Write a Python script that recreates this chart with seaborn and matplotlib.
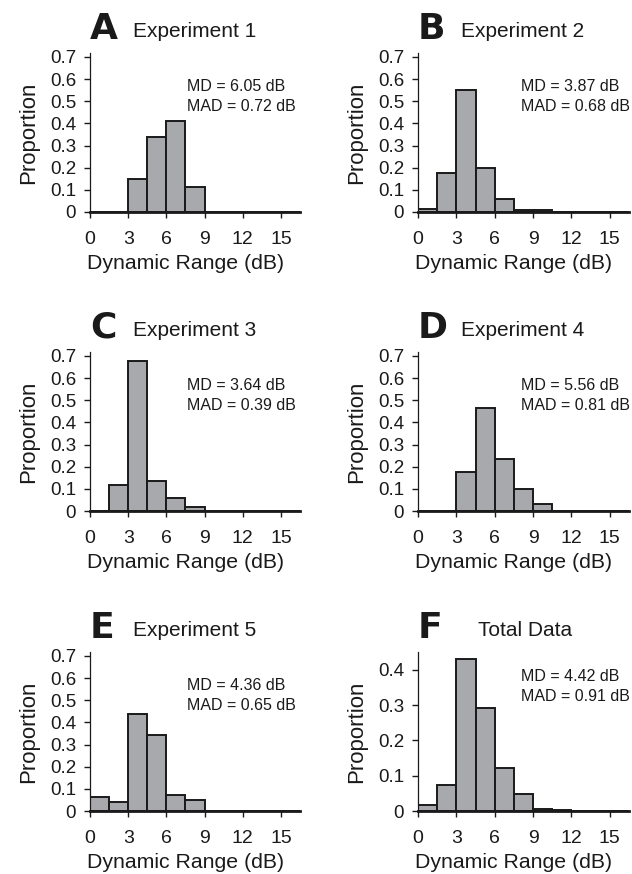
import seaborn as sns
import matplotlib.pyplot as plt

# histogramas da faixa dinamica, bins de 1.5 dB
bin_edges = [0, 1.5, 3, 4.5, 6, 7.5, 9, 10.5, 12, 13.5, 15, 16.5]
bin_centers = [(a + b) / 2 for a, b in zip(bin_edges[:-1], bin_edges[1:])]

exp1 = [0, 0, 0.149, 0.339, 0.411, 0.111, 0, 0, 0, 0, 0]
exp2 = [0.015, 0.174, 0.55, 0.2, 0.057, 0.0075, 0.0075, 0.002, 0.002, 0.001, 0.001]
exp3 = [0, 0.117, 0.677, 0.136, 0.057, 0.019, 0, 0, 0, 0, 0]
exp4 = [0, 0, 0.176, 0.465, 0.236, 0.1, 0.033, 0, 0, 0, 0]
exp5 = [0.065, 0.042, 0.438, 0.341, 0.072, 0.048, 0, 0, 0, 0, 0]
total = [0.018, 0.075, 0.431, 0.291, 0.121, 0.047, 0.007, 0.002, 0.001, 0.001, 0]

series = [exp1, exp2, exp3, exp4, exp5, total]
letters = ['A', 'B', 'C', 'D', 'E', 'F']
titles = ['Experiment 1', 'Experiment 2', 'Experiment 3',
          'Experiment 4', 'Experiment 5', 'Total Data']
md_vals = ['6.05', '3.87', '3.64', '5.56', '4.36', '4.42']
mad_vals = ['0.72', '0.68', '0.39', '0.81', '0.65', '0.91']
x_ticks = [0, 3, 6, 9, 12, 15]
y_ticks_a = [0, 0.1, 0.2, 0.3, 0.4, 0.5, 0.6, 0.7]
y_labels_a = ['0', '0.1', '0.2', '0.3', '0.4', '0.5', '0.6', '0.7']
y_ticks_f = [0, 0.1, 0.2, 0.3, 0.4]
y_labels_f = ['0', '0.1', '0.2', '0.3', '0.4']

sns.set_style('ticks')
plt.rcParams['font.family'] = ['Liberation Sans', 'DejaVu Sans']

W, H = 632, 874
fig = plt.figure(figsize=(W / 100, H / 100), dpi=100)

# (esquerda, topo, largura, altura) em pixels
boxes = [(90, 53, 210, 159), (418, 53, 211, 159),
         (90, 352, 210, 159), (418, 352, 211, 159),
         (90, 652, 210, 159), (418, 652, 211, 159)]

ink = '#1a1a1a'

for i, vals in enumerate(series):
    x0, y0, w, h = boxes[i]
    ax = fig.add_axes([x0 / W, (H - y0 - h) / H, w / W, h / H])
    sns.histplot(x=bin_centers, weights=vals, bins=bin_edges, stat='count',
                 color='#a7a9ac', edgecolor=ink, linewidth=1.4,
                 alpha=1, ax=ax)
    ax.set_xlim(0, 16.5)
    ax.set_xticks(x_ticks)
    if i == 5:
        ax.set_ylim(0, 0.45)
        ax.set_yticks(y_ticks_f, y_labels_f)
    else:
        ax.set_ylim(0, 0.718)
        ax.set_yticks(y_ticks_a, y_labels_a)
    sns.despine(ax=ax)
    ax.spines['left'].set_linewidth(0.9)
    ax.spines['bottom'].set_linewidth(2)
    ax.spines['left'].set_color(ink)
    ax.spines['bottom'].set_color(ink)
    ax.tick_params(axis='x', direction='out', length=4, width=1, pad=10,
                   labelsize=14, colors=ink)
    ax.tick_params(axis='y', direction='out', length=4, width=1, pad=6,
                   labelsize=13.5, colors=ink)
    ax.set_xlabel('Dynamic Range (dB)', fontsize=15.3, labelpad=4, color=ink)
    ax.xaxis.label.set_x(0.455)
    ax.set_ylabel('Proportion', fontsize=16, labelpad=8, color=ink)

    ax.text(0, 1.09, letters[i], transform=ax.transAxes, fontsize=26,
            family='DejaVu Sans', fontweight='bold', va='baseline',
            ha='left', color=ink)
    tx = 0.205 if i != 5 else 0.286
    ax.text(tx, 1.10, titles[i], transform=ax.transAxes, fontsize=15,
            va='baseline', ha='left', color=ink)

    mx = 0.462 if i % 2 == 0 else 0.488
    my = 0.82 if i == 5 else 0.76
    ax.text(mx, my, f'MD = {md_vals[i]} dB', transform=ax.transAxes,
            fontsize=11.5, va='baseline', ha='left', color=ink)
    ax.text(mx, my - 0.127, f'MAD = {mad_vals[i]} dB', transform=ax.transAxes,
            fontsize=11.5, va='baseline', ha='left', color=ink)

plt.savefig('out.png', dpi=100)
